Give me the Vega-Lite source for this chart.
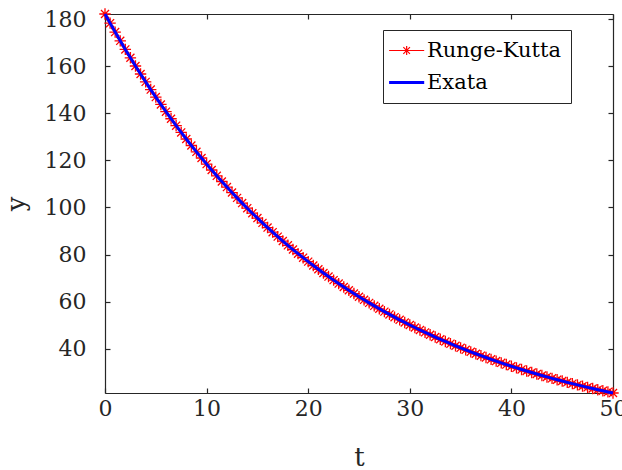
{
  "$schema": "https://vega.github.io/schema/vega-lite/v6.json",
  "autosize": {"type": "none"},
  "padding": {"left": 105, "top": 14, "right": 9, "bottom": 77},
  "width": 508,
  "height": 379,
  "background": "white",
  "config": {
    "view": {"stroke": null},
    "font": "DejaVu Serif",
    "axis": {
      "labelFont": "DejaVu Serif",
      "titleFont": "DejaVu Serif",
      "labelFontSize": 22,
      "titleFontSize": 26,
      "titleFontWeight": "normal",
      "labelColor": "#262626",
      "titleColor": "#262626",
      "domainColor": "#262626",
      "tickColor": "#262626",
      "domainWidth": 1.2,
      "tickWidth": 1.2,
      "tickSize": -5,
      "grid": false
    },
    "legend": {
      "labelFont": "DejaVu Serif"
    }
  },
  "data": {
    "values": [
      {"t": 0, "y": 182.230}, {"t": 0.5, "y": 178.346}, {"t": 1, "y": 174.544}, {"t": 1.5, "y": 170.824},
      {"t": 2, "y": 167.183}, {"t": 2.5, "y": 163.619}, {"t": 3, "y": 160.132}, {"t": 3.5, "y": 156.719},
      {"t": 4, "y": 153.378}, {"t": 4.5, "y": 150.109}, {"t": 5, "y": 146.909}, {"t": 5.5, "y": 143.778},
      {"t": 6, "y": 140.713}, {"t": 6.5, "y": 137.714}, {"t": 7, "y": 134.778}, {"t": 7.5, "y": 131.905},
      {"t": 8, "y": 129.094}, {"t": 8.5, "y": 126.342}, {"t": 9, "y": 123.650}, {"t": 9.5, "y": 121.014},
      {"t": 10, "y": 118.435}, {"t": 10.5, "y": 115.911}, {"t": 11, "y": 113.440}, {"t": 11.5, "y": 111.022},
      {"t": 12, "y": 108.656}, {"t": 12.5, "y": 106.340}, {"t": 13, "y": 104.073}, {"t": 13.5, "y": 101.855},
      {"t": 14, "y": 99.684}, {"t": 14.5, "y": 97.559}, {"t": 15, "y": 95.480}, {"t": 15.5, "y": 93.445},
      {"t": 16, "y": 91.453}, {"t": 16.5, "y": 89.504}, {"t": 17, "y": 87.596}, {"t": 17.5, "y": 85.729},
      {"t": 18, "y": 83.902}, {"t": 18.5, "y": 82.114}, {"t": 19, "y": 80.363}, {"t": 19.5, "y": 78.650},
      {"t": 20, "y": 76.974}, {"t": 20.5, "y": 75.333}, {"t": 21, "y": 73.728}, {"t": 21.5, "y": 72.156},
      {"t": 22, "y": 70.618}, {"t": 22.5, "y": 69.113}, {"t": 23, "y": 67.640}, {"t": 23.5, "y": 66.198},
      {"t": 24, "y": 64.787}, {"t": 24.5, "y": 63.406}, {"t": 25, "y": 62.055}, {"t": 25.5, "y": 60.732},
      {"t": 26, "y": 59.438}, {"t": 26.5, "y": 58.171}, {"t": 27, "y": 56.931}, {"t": 27.5, "y": 55.718},
      {"t": 28, "y": 54.530}, {"t": 28.5, "y": 53.368}, {"t": 29, "y": 52.230}, {"t": 29.5, "y": 51.117},
      {"t": 30, "y": 50.027}, {"t": 30.5, "y": 48.961}, {"t": 31, "y": 47.917}, {"t": 31.5, "y": 46.896},
      {"t": 32, "y": 45.896}, {"t": 32.5, "y": 44.918}, {"t": 33, "y": 43.960}, {"t": 33.5, "y": 43.023},
      {"t": 34, "y": 42.106}, {"t": 34.5, "y": 41.209}, {"t": 35, "y": 40.330}, {"t": 35.5, "y": 39.470},
      {"t": 36, "y": 38.629}, {"t": 36.5, "y": 37.806}, {"t": 37, "y": 37.000}, {"t": 37.5, "y": 36.211},
      {"t": 38, "y": 35.440}, {"t": 38.5, "y": 34.685}, {"t": 39, "y": 33.945}, {"t": 39.5, "y": 33.221},
      {"t": 40, "y": 32.513}, {"t": 40.5, "y": 31.820}, {"t": 41, "y": 31.142}, {"t": 41.5, "y": 30.478},
      {"t": 42, "y": 29.829}, {"t": 42.5, "y": 29.193}, {"t": 43, "y": 28.571}, {"t": 43.5, "y": 27.962},
      {"t": 44, "y": 27.366}, {"t": 44.5, "y": 26.783}, {"t": 45, "y": 26.212}, {"t": 45.5, "y": 25.653},
      {"t": 46, "y": 25.106}, {"t": 46.5, "y": 24.571}, {"t": 47, "y": 24.047}, {"t": 47.5, "y": 23.534},
      {"t": 48, "y": 23.033}, {"t": 48.5, "y": 22.542}, {"t": 49, "y": 22.062}, {"t": 49.5, "y": 21.592},
      {"t": 50, "y": 21.131}
    ]
  },
  "resolve": {"axis": {"x": "independent", "y": "independent"}},
  "layer": [
    {
      "mark": {"type": "line", "strokeWidth": 1, "clip": false},
      "encoding": {
        "x": {"field": "t", "type": "quantitative",
              "scale": {"domain": [0, 50], "nice": false, "zero": false},
              "axis": {"orient": "bottom", "values": [0, 10, 20, 30, 40, 50], "title": "t",
                       "labelPadding": 10, "titlePadding": 25, "labelFlush": false, "labelOverlap": false}},
        "y": {"field": "y", "type": "quantitative",
              "scale": {"domain": [21.13, 182.23], "nice": false, "zero": false},
              "axis": {"orient": "left", "values": [40, 60, 80, 100, 120, 140, 160, 180], "title": "y",
                       "labelPadding": 24, "titlePadding": 15, "labelFlush": false, "labelOverlap": false}},
        "color": {"datum": "Runge-Kutta", "type": "nominal",
                  "scale": {"domain": ["Runge-Kutta", "Exata"], "range": ["#ff0000", "#0000ff"]},
                  "legend": {
                    "title": null,
                    "orient": "none",
                    "legendX": 278,
                    "legendY": 16,
                    "labelFontSize": 21,
                    "labelColor": "#000000",
                    "labelLimit": 400,
                    "labelOffset": 13,
                    "symbolSize": 900,
                    "rowPadding": 10,
                    "padding": 10,
                    "strokeColor": "#262626",
                    "fillColor": "white",
                    "cornerRadius": 0,
                    "encode": {
                      "symbols": {
                        "update": {
                          "shape": {"signal": "datum.value === 'Exata' ? 'M-0.96,0L1.38,0' : 'M-0.96,0L1.38,0M0.21,-0.3L0.21,0.3M-0.01,-0.22L0.43,0.22M-0.01,0.22L0.43,-0.22'"},
                          "stroke": {"signal": "datum.value === 'Exata' ? '#0000ff' : '#ff0000'"},
                          "strokeWidth": {"signal": "datum.value === 'Exata' ? 3 : 1.2"},
                          "fill": {"value": "transparent"},
                          "opacity": {"value": 1}
                        }
                      }
                    }
                  }}
      }
    },
    {
      "mark": {"type": "point", "filled": false, "size": 130, "strokeWidth": 1.3, "opacity": 1, "clip": false,
               "shape": "M-1,0L1,0M0,-1L0,1M-0.7071,-0.7071L0.7071,0.7071M-0.7071,0.7071L0.7071,-0.7071"},
      "encoding": {
        "x": {"field": "t", "type": "quantitative", "axis": null},
        "y": {"field": "y", "type": "quantitative", "axis": null},
        "color": {"datum": "Runge-Kutta", "type": "nominal"}
      }
    },
    {
      "mark": {"type": "line", "strokeWidth": 3, "clip": false},
      "encoding": {
        "x": {"field": "t", "type": "quantitative",
              "axis": {"orient": "top", "values": [0, 10, 20, 30, 40, 50], "labels": false, "title": null}},
        "y": {"field": "y", "type": "quantitative",
              "axis": {"orient": "right", "values": [40, 60, 80, 100, 120, 140, 160, 180], "labels": false, "title": null}},
        "color": {"datum": "Exata", "type": "nominal"}
      }
    }
  ]
}
